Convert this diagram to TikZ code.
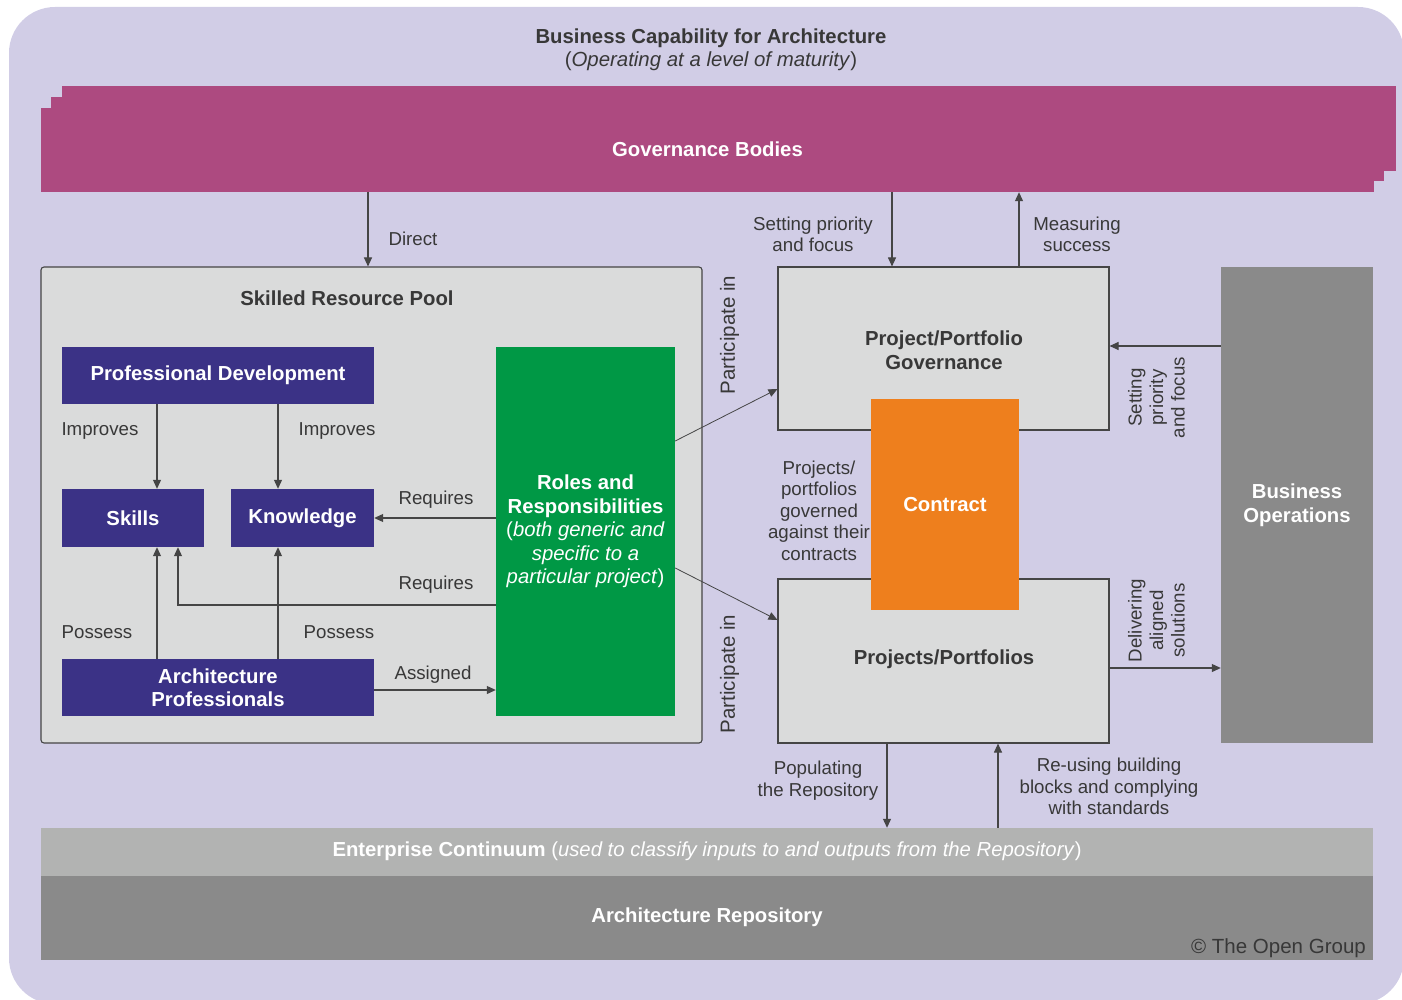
\documentclass[tikz,border=0pt]{standalone}
\usepackage{fontspec}
\setmainfont{Liberation Sans}
\usetikzlibrary{arrows.meta}
\definecolor{bgl}{HTML}{D1CDE6}
\definecolor{govc}{HTML}{AD4A80}
\definecolor{lgrey}{HTML}{DADBDB}
\definecolor{indigo}{HTML}{3B3286}
\definecolor{greenc}{HTML}{009845}
\definecolor{orangec}{HTML}{EE7F1D}
\definecolor{dgrey}{HTML}{8A8A8A}
\definecolor{mgrey}{HTML}{B2B3B2}
\definecolor{txt}{HTML}{383838}
\definecolor{linec}{HTML}{454545}
\begin{document}
\begin{tikzpicture}[x=1pt,y=-1pt,
  blk/.style={draw=none,inner sep=0pt,align=center,text=white,font=\fontsize{20.3}{23.5}\selectfont\bfseries},
  bluebox/.style={blk,fill=indigo},
  greybox/.style={draw=linec,line width=1.1pt,fill=lgrey,inner sep=0pt,align=center,text=txt,font=\fontsize{20.3}{24}\selectfont\bfseries},
  lbl/.style={inner sep=0pt,align=center,text=txt,yshift=-1.5pt,font=\fontsize{18.7}{21.5}\selectfont},
  arr/.style={draw=linec,line width=1.1pt,-{Triangle[length=9pt,width=8pt]}},
  ln/.style={draw=linec,line width=1.1pt}]
\useasboundingbox (0,0) rectangle (1402,1000);
\begin{scope}
\clip (0,0) rectangle (1402,1000);
\fill[bgl, rounded corners=46pt] (9,7) rectangle (1404,1004);
\end{scope}
% title
\node[lbl,font=\fontsize{20.3}{23}\selectfont\bfseries] (title) at (711,37) {Business Capability for Architecture};
\node[lbl,font=\fontsize{20.4}{22}\selectfont] (subt) at (711,60) {(\textit{Operating at a level of maturity})};
% governance bodies
\node[blk,fill=govc,minimum width=1334pt,minimum height=85pt] (gov3) at (729,128.5) {};
\node[blk,fill=govc,minimum width=1333pt,minimum height=84pt] (gov2) at (717.5,139) {};
\node[blk,fill=govc,minimum width=1333pt,minimum height=84pt] (gov) at (707.5,150) {};
\node[blk] (govt) at (707.5,149) {Governance Bodies};
% skilled resource pool
\node[draw=linec,line width=1.1pt,fill=lgrey,rounded corners=3pt,minimum width=661pt,minimum height=476pt,inner sep=0pt] (pool) at (371.5,505) {};
\node[lbl,font=\fontsize{20.3}{23}\selectfont\bfseries] (poolt) at (347,297) {Skilled Resource Pool};
\node[bluebox,minimum width=312pt,minimum height=57pt] (pd) at (218,375.5) {Professional Development};
\node[bluebox,minimum width=142pt,minimum height=58pt] (sk) at (133,518) {Skills};
\node[bluebox,minimum width=143pt,minimum height=58pt] (kn) at (302.5,518) {Knowledge};
\node[bluebox,minimum width=312pt,minimum height=57pt] (ap) at (218,687.5) {Architecture\\Professionals};
\node[blk,fill=greenc,minimum width=179pt,minimum height=369pt] (ro) at (585.5,531.5) {};
\node[blk] (rot) at (585.5,531.5) {Roles and\\Responsibilities\\\mdseries(\textit{both generic and}\\\mdseries\textit{specific to a}\\\mdseries\textit{particular project})};
% right side
\node[greybox,minimum width=331pt,minimum height=163pt] (ppg) at (943.5,348.5) {};
\node[lbl,font=\fontsize{20.3}{24}\selectfont\bfseries] (ppgt) at (944,349) {Project/Portfolio\\Governance};
\node[greybox,minimum width=331pt,minimum height=164pt] (pp) at (943.5,661) {};
\node[lbl,font=\fontsize{20.3}{24}\selectfont\bfseries] (ppt) at (944,658) {Projects/Portfolios};
\node[blk,fill=orangec,minimum width=148pt,minimum height=211pt] (ct) at (945,504.5) {Contract};
\node[blk,fill=dgrey,minimum width=152pt,minimum height=476pt] (bo) at (1297,505) {Business\\Operations};
% bottom bands
\node[blk,fill=mgrey,minimum width=1332pt,minimum height=48pt] (ec) at (707,852) {};
\node[blk] (ect) at (707,851) {Enterprise Continuum \mdseries(\textit{used to classify inputs to and outputs from the Repository})};
\node[blk,fill=dgrey,minimum width=1332pt,minimum height=84pt] (ar) at (707,918) {};
\node[blk] (art) at (707,917) {Architecture Repository};
\node[lbl,anchor=east,font=\fontsize{20.5}{22}\selectfont] (cr) at (1366,947) {\textcopyright{} The Open Group};
% helper coordinates
\coordinate (xA) at (157,0);
\coordinate (xB) at (178,0);
\coordinate (xK) at (278,0);
\coordinate (xD) at (368,0);
\coordinate (xS) at (892,0);
\coordinate (xM) at (1019,0);
\coordinate (xP) at (887,0);
\coordinate (xR) at (998,0);
\coordinate (yRq) at (0,605);
\coordinate (yB) at (0,346);
\coordinate (yDl) at (0,668);
\coordinate (yAs) at (0,690);
\coordinate (yR1) at (0,441);
\coordinate (yG1) at (0,389);
\coordinate (yR2) at (0,568);
\coordinate (yG2) at (0,620);
% connectors inside pool
\draw[arr] (pd.south -| xA) -- (sk.north -| xA);
\draw[arr] (pd.south -| xK) -- (kn.north -| xK);
\draw[arr] (ro.west |- kn.east) -- (kn.east);
\draw[arr] (ro.west |- yRq) -| (sk.south -| xB);
\draw[arr] (ap.north -| xA) -- (sk.south -| xA);
\draw[arr] (ap.north -| xK) -- (kn.south -| xK);
\draw[arr] (ap.east |- yAs) -- (ro.west |- yAs);
% other connectors
\draw[arr] (gov.south -| xD) -- (pool.north -| xD);
\draw[arr] (gov.south -| xS) -- (ppg.north -| xS);
\draw[arr] (ppg.north -| xM) -- (gov.south -| xM);
\draw[arr] (bo.west |- yB) -- (ppg.east |- yB);
\draw[arr] (pp.east |- yDl) -- (bo.west |- yDl);
\draw[arr] (pp.south -| xP) -- (ec.north -| xP);
\draw[arr] (ec.north -| xR) -- (pp.south -| xR);
\draw[arr,line width=0.8pt] (ro.east |- yR1) -- (ppg.west |- yG1);
\draw[arr,line width=0.8pt] (ro.east |- yR2) -- (pp.west |- yG2);
% labels
\node[lbl] (l1) at (100,430) {Improves};
\node[lbl] (l2) at (337,430) {Improves};
\node[lbl] (l3) at (436,498) {Requires};
\node[lbl] (l4) at (436,583) {Requires};
\node[lbl] (l5) at (97,631) {Possess};
\node[lbl] (l6) at (339,631) {Possess};
\node[lbl] (l7) at (433,673) {Assigned};
\node[lbl] (l8) at (413,237) {Direct};
\node[lbl] (l9) at (813,233) {Setting priority\\and focus};
\node[lbl] (l10) at (1077,233) {Measuring\\success};
\node[lbl,rotate=90,yshift=1.5pt,xshift=1.5pt,font=\fontsize{20.5}{22}\selectfont] (l11) at (731,335) {Participate in};
\node[lbl,rotate=90,yshift=1.5pt,xshift=1.5pt,font=\fontsize{20.5}{22}\selectfont] (l12) at (731,674) {Participate in};
\node[lbl] (l13) at (819,509) {Projects/\\portfolios\\governed\\against their\\contracts};
\node[lbl,rotate=90,yshift=1.5pt] (l14) at (1158,396) {Setting\\priority\\and focus};
\node[lbl,rotate=90,yshift=1.5pt] (l15) at (1158,619) {Delivering\\aligned\\solutions};
\node[lbl] (l16) at (818,779) {Populating\\the Repository};
\node[lbl] (l17) at (1109,785) {Re-using building\\blocks and complying\\with standards};
\end{tikzpicture}
\end{document}
